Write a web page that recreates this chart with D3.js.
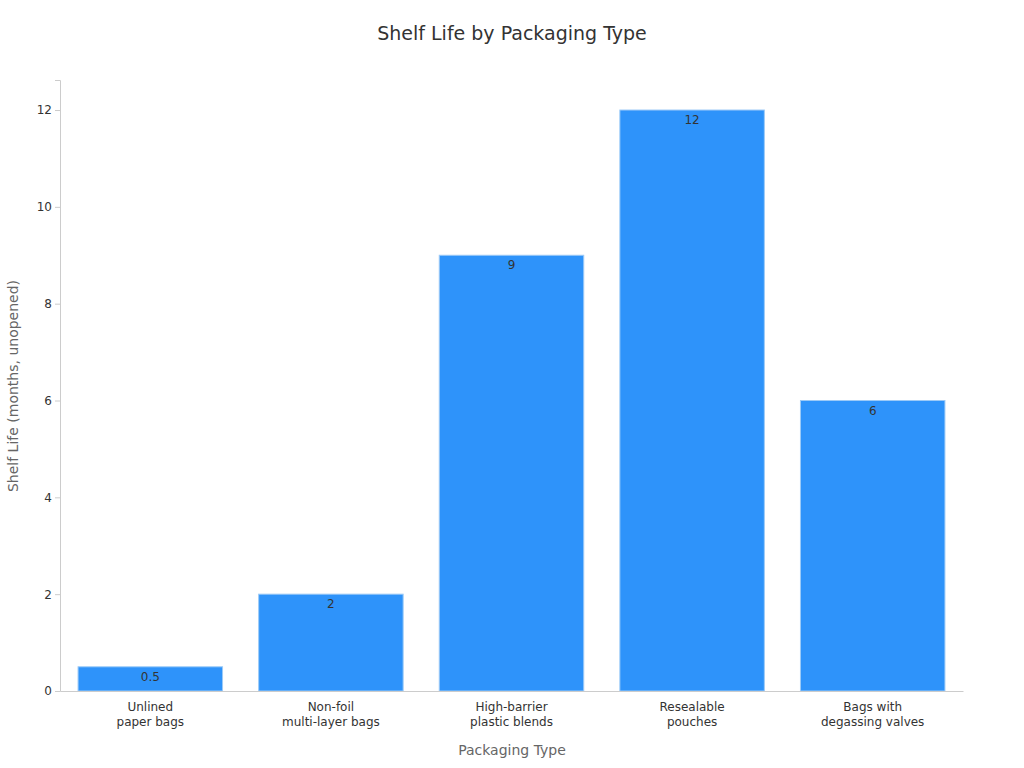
<!DOCTYPE html>
<html><head><meta charset="utf-8">
<script src="https://cdn.jsdelivr.net/npm/d3@7"></script>
<style>body{margin:0;background:#fff;font-family:"DejaVu Sans",sans-serif}</style>
</head><body><svg id="chart" width="1024" height="768"></svg>
<script>
const categories = [["Unlined", "paper bags"], ["Non-foil", "multi-layer bags"], ["High-barrier", "plastic blends"], ["Resealable", "pouches"], ["Bags with", "degassing valves"]];
const values = [0.5, 2, 9, 12, 6];
const yTicks = [0, 2, 4, 6, 8, 10, 12];

const svg = d3.select('#chart');
const margin = { left: 60, right: 61, top: 80, bottom: 77 };
const W = 1024, H = 768;

const x = d3.scaleBand().domain(d3.range(values.length)).range([margin.left, W - margin.right]).paddingInner(0.2).paddingOuter(0.1);
const y = d3.scaleLinear().domain([0, 12.62]).range([H - margin.bottom, margin.top]);

svg.append('text').attr('x', 512).attr('y', 40).attr('text-anchor', 'middle')
  .attr('font-size', 19).attr('fill', '#333').text('Shelf Life by Packaging Type');

svg.selectAll('.bar').data(values).enter().append('rect')
  .attr('x', (d, i) => x(i)).attr('width', x.bandwidth())
  .attr('y', d => y(d)).attr('height', d => y(0) - y(d))
  .attr('fill', '#2E93FA').attr('stroke', '#9ccaf7').attr('stroke-width', 1);

svg.selectAll('.lbl').data(values).enter().append('text')
  .attr('x', (d, i) => x(i) + x.bandwidth() / 2).attr('y', d => y(d) + 14)
  .attr('text-anchor', 'middle').attr('font-size', 12).attr('fill', '#333').text(d => d);

const yAxis = svg.append('g').attr('transform', `translate(${margin.left},0)`)
  .call(d3.axisLeft(y).tickValues(yTicks).tickSize(5));
const xAxis = svg.append('g').attr('transform', `translate(0,${y(0)})`)
  .call(d3.axisBottom(x).tickSize(0).tickFormat(''));
[yAxis, xAxis].forEach(g => {
  g.selectAll('path,line').attr('stroke', '#ccc');
  g.selectAll('text').attr('font-size', 12).attr('fill', '#333').attr('font-family', '"DejaVu Sans",sans-serif');
});

categories.forEach((c, i) => {
  const t = svg.append('text').attr('x', x(i) + x.bandwidth() / 2).attr('y', y(0) + 20)
    .attr('text-anchor', 'middle').attr('font-size', 12).attr('fill', '#333');
  c.forEach((line, j) => t.append('tspan').attr('x', x(i) + x.bandwidth() / 2).attr('dy', j ? 15 : 0).text(line));
});

svg.append('text').attr('x', 512).attr('y', 755).attr('text-anchor', 'middle')
  .attr('font-size', 14).attr('fill', '#666').text('Packaging Type');
svg.append('text').attr('transform', 'translate(18,386) rotate(-90)').attr('text-anchor', 'middle')
  .attr('font-size', 14).attr('fill', '#666').text('Shelf Life (months, unopened)');
</script></body></html>
